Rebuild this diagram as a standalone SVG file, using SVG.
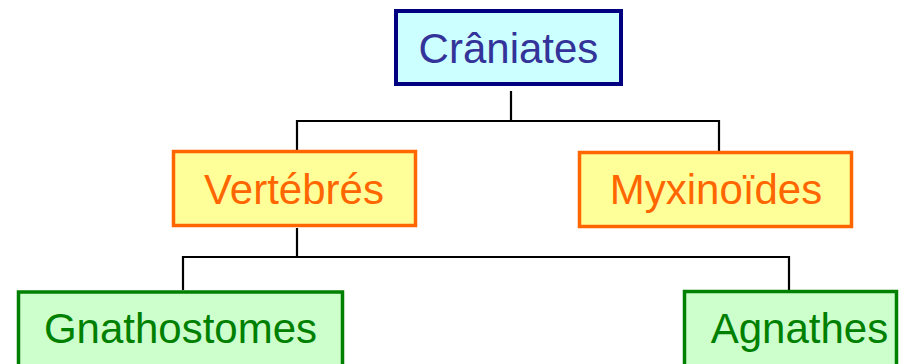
<svg xmlns="http://www.w3.org/2000/svg" width="900" height="364" viewBox="0 0 900 364">
<style>
text{font-family:"Liberation Sans",Arial,sans-serif;font-size:42px;text-anchor:middle}
.conn{fill:none;stroke:#000;stroke-width:2.2}
.b1{fill:#CCFFFF;stroke:#000080;stroke-width:4}
.t1{fill:#333399}
.b2{fill:#FFFF99;stroke:#FF6600;stroke-width:3.5}
.t2{fill:#FF6600}
.b3{fill:#CCFFCC;stroke:#008000;stroke-width:3.5}
.t3{fill:#008000}
</style>
<rect width="900" height="364" fill="#fff"/>
<g id="connectors">
<path class="conn" d="M511,91 V121 M297,151 V121 H719 V151"/>
<path class="conn" d="M297,228 V257 M183,290 V257 H789 V290"/>
</g>
<g id="craniates">
<rect class="b1" x="396" y="11" width="225" height="73"/>
<text class="t1" x="508.5" y="63">Crâniates</text>
</g>
<g id="vertebres">
<rect class="b2" x="173.5" y="151.5" width="242" height="74"/>
<text class="t2" x="294" y="204">Vertébrés</text>
</g>
<g id="myxinoides">
<rect class="b2" x="579.5" y="152.5" width="272" height="74"/>
<text class="t2" x="716" y="204">Myxinoïdes</text>
</g>
<g id="gnathostomes">
<rect class="b3" x="18.5" y="292" width="324" height="80"/>
<text class="t3" x="180.5" y="343">Gnathostomes</text>
</g>
<g id="agnathes">
<rect class="b3" x="684.5" y="291.5" width="212" height="80"/>
<text class="t3" x="799.5" y="343">Agnathes</text>
</g>
</svg>
